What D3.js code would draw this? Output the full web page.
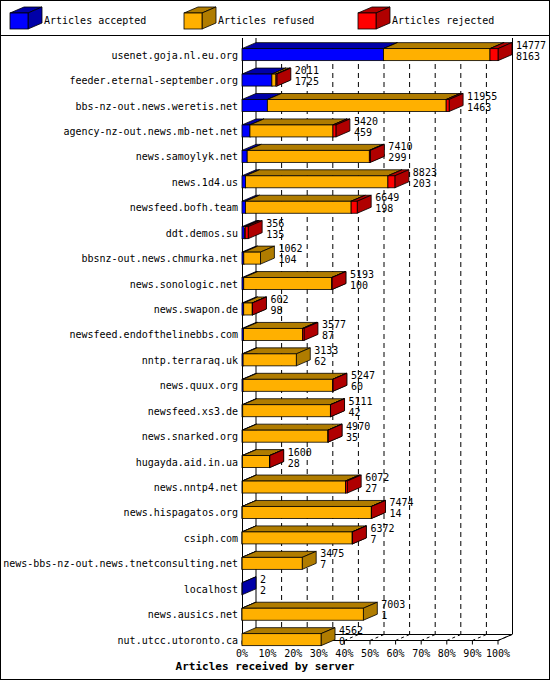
<!DOCTYPE html>
<html><head><meta charset="utf-8">
<script src="https://cdn.jsdelivr.net/npm/d3@7"></script>
<style>body{margin:0;background:#fff}svg{display:block}text{font-family:"DejaVu Sans Mono",monospace;font-size:10px}</style>
</head><body>
<script>
const servers=["usenet.goja.nl.eu.org","feeder.eternal-september.org","bbs-nz-out.news.weretis.net","agency-nz-out.news.mb-net.net","news.samoylyk.net","news.1d4.us","newsfeed.bofh.team","ddt.demos.su","bbsnz-out.news.chmurka.net","news.sonologic.net","news.swapon.de","newsfeed.endofthelinebbs.com","nntp.terraraq.uk","news.quux.org","newsfeed.xs3.de","news.snarked.org","hugayda.aid.in.ua","news.nntp4.net","news.hispagatos.org","csiph.com","news-bbs-nz-out.news.tnetconsulting.net","localhost","news.ausics.net","nut.utcc.utoronto.ca"];
const offered=[14777,2011,11955,5420,7410,8823,6649,356,1062,5193,602,3577,3133,5247,5111,4970,1600,6072,7474,6372,3475,2,7003,4562];
const accepted=[8163,1725,1463,459,299,203,198,135,104,100,98,87,62,60,42,35,28,27,14,7,7,2,1,0];
const refused=[6152,236,10322,4791,7051,8220,6101,50,958,5083,494,3400,3071,5177,5059,4925,1562,5945,7450,6355,3468,0,7002,4562];
const rejected=[462,50,170,170,60,400,350,171,0,10,10,90,0,10,10,10,10,100,10,10,0,0,0,0];
const ticks=[0,10,20,30,40,50,60,70,80,90,100];
const series=[
 {name:"Articles accepted",vals:accepted,front:"#0000ff",dark:"#0000a8"},
 {name:"Articles refused",vals:refused,front:"#ffb000",dark:"#b07c00"},
 {name:"Articles rejected",vals:rejected,front:"#ff0000",dark:"#b00000"}];

const W=550,H=680,DX=14,DY=6,BH=12;
const svg=d3.select("body").append("svg").attr("width",W).attr("height",H);
svg.append("rect").attr("x",0.5).attr("y",0.5).attr("width",W-1).attr("height",H-1).attr("fill","#fff").attr("stroke","#000");
svg.append("line").attr("x1",0).attr("x2",W).attr("y1",35.5).attr("y2",35.5).attr("stroke","#000");

const x=d3.scaleLinear().domain([0,d3.max(offered)]).range([242,498]);
const xp=d3.scaleLinear().domain([0,100]).range([242,498]);
const y=d3.scaleBand().domain(servers).range([40.5,653]).paddingInner(0.52).paddingOuter(0.3);
const floorY=640.5, topY=38;

function box(g,x0,x1,yt,h,c){
  g.append("path").attr("d",`M${x0},${yt}L${x0+DX},${yt-DY}L${x1+DX},${yt-DY}L${x1},${yt}Z`).attr("fill",c.dark).attr("stroke","#000").attr("stroke-width",0.8);
  g.append("path").attr("d",`M${x1},${yt}L${x1+DX},${yt-DY}L${x1+DX},${yt-DY+h}L${x1},${yt+h}Z`).attr("fill",c.dark).attr("stroke","#000").attr("stroke-width",0.8);
  g.append("rect").attr("x",x0).attr("y",yt).attr("width",Math.max(0,x1-x0)).attr("height",h).attr("fill",c.front).attr("stroke","#000").attr("stroke-width",0.8);
}

svg.append("line").attr("x1",242+DX).attr("x2",242+DX).attr("y1",topY).attr("y2",floorY-DY).attr("stroke","#000");
svg.append("line").attr("x1",498+DX+0.5).attr("x2",498+DX+0.5).attr("y1",topY).attr("y2",floorY-DY).attr("stroke","#000");
ticks.slice(1,10).forEach(t=>{
  svg.append("line").attr("x1",xp(t)+DX).attr("x2",xp(t)+DX).attr("y1",topY+8).attr("y2",floorY-DY).attr("stroke","#000").attr("stroke-dasharray","5,4");
});
svg.append("line").attr("x1",242+DX).attr("x2",498+DX).attr("y1",floorY-DY).attr("y2",floorY-DY).attr("stroke","#000");
svg.append("line").attr("x1",242).attr("x2",498).attr("y1",floorY).attr("y2",floorY).attr("stroke","#000");
svg.append("line").attr("x1",498).attr("x2",498+DX).attr("y1",floorY).attr("y2",floorY-DY).attr("stroke","#000");
ticks.forEach(t=>{
  svg.append("line").attr("x1",xp(t)).attr("x2",xp(t)+DX).attr("y1",floorY).attr("y2",floorY-DY).attr("stroke","#000").attr("stroke-dasharray","3,3");
  svg.append("line").attr("x1",xp(t)).attr("x2",xp(t)).attr("y1",floorY).attr("y2",floorY+4).attr("stroke","#000");
  svg.append("text").attr("x",xp(t)).attr("y",floorY+16).attr("text-anchor","middle").text(t+"%");
});
svg.append("line").attr("x1",242.5).attr("x2",242.5).attr("y1",topY).attr("y2",floorY).attr("stroke","#000");
svg.append("text").attr("x",265).attr("y",670).attr("text-anchor","middle").attr("font-weight","bold").style("font-size","11px").text("Articles received by server");

servers.forEach((s,i)=>{
  const g=svg.append("g");
  const yt=y(s)+0.5, h=BH;
  let cum=0;
  series.forEach(se=>{
    const v=se.vals[i];
    if(v>0){box(g,x(cum),x(cum+v),yt,h,se);}
    cum+=v;
  });
  svg.append("text").attr("x",238).attr("y",yt+h-2).attr("text-anchor","end").text(s);
  const tx=x(offered[i])+DX+4;
  svg.append("text").attr("x",tx).attr("y",yt).text(offered[i]);
  svg.append("text").attr("x",tx).attr("y",yt+11).text(accepted[i]);
});

const lx=[10,184,358];
series.forEach((se,i)=>{
  const g=svg.append("g");
  box(g,lx[i],lx[i]+18,13,16,{front:se.front,dark:se.dark});
  svg.append("text").attr("x",lx[i]+34).attr("y",24).text(se.name);
});
</script>
</body></html>
